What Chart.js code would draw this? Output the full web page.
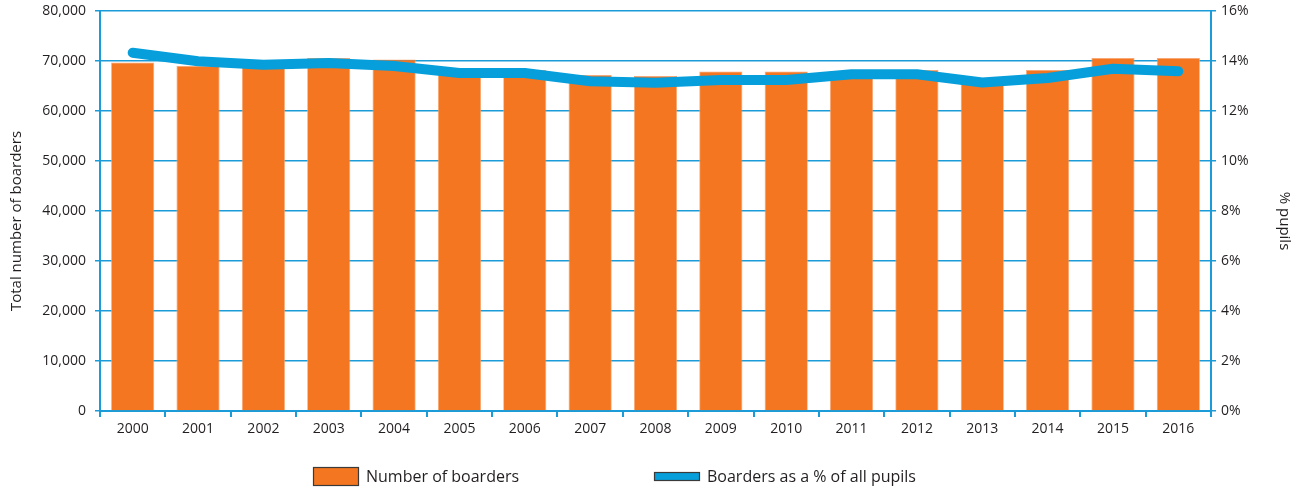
<!DOCTYPE html>
<html>
<head>
<meta charset="utf-8">
<title>Boarders 2000–2016</title>
<script src="https://cdn.jsdelivr.net/npm/chart.js@4/dist/chart.umd.min.js"></script>
<style>
  html, body { margin: 0; padding: 0; background: #ffffff; }
  #wrap { position: relative; width: 1301px; height: 490px; }
</style>
</head>
<body>
<div id="wrap"><canvas id="chart" width="1301" height="490"></canvas></div>
<script>
// Census years
const years = ['2000', '2001', '2002', '2003', '2004', '2005', '2006', '2007', '2008',
               '2009', '2010', '2011', '2012', '2013', '2014', '2015', '2016'];

// Total number of boarders (left axis)
const boarders = [69700, 69000, 68800, 70600, 70300, 67700, 68200, 67200, 67000,
                  67900, 67900, 68000, 68200, 66200, 68200, 70600, 70600];

// Boarders as a percentage of all pupils (right axis)
const boarderShare = [14.33, 13.99, 13.85, 13.92, 13.80, 13.52, 13.52, 13.19, 13.13,
                      13.24, 13.24, 13.47, 13.47, 13.14, 13.32, 13.69, 13.59];

// Axis tick steps
const countStep = 10000;
const countMax = 80000;
const shareStep = 2;
const shareMax = 16;

const seriesNames = ['Number of boarders', 'Boarders as a % of all pupils'];
const axisTitles = ['Total number of boarders', '% pupils'];

const ORANGE = '#f47621';
const BLUE = '#069fdb';
const AXIS_BLUE = '#1b9bd7';
const TEXT = '#231f20';
const FONT = '"Open Sans", "Noto Sans", sans-serif';

// Rotated axis titles, sitting a little below the middle of the plot
const axisTitlePlugin = {
  id: 'axisTitles',
  afterDraw(chart) {
    const ctx = chart.ctx;
    const cy = (chart.chartArea.top + chart.chartArea.bottom) / 2 + 10;
    ctx.save();
    ctx.font = '15px ' + FONT;
    ctx.fillStyle = TEXT;
    ctx.textAlign = 'center';
    ctx.textBaseline = 'middle';
    // left title reads bottom to top
    ctx.save();
    ctx.translate(17, cy);
    ctx.rotate(-Math.PI / 2);
    ctx.fillText(axisTitles[0], 0, 0);
    ctx.restore();
    // right title reads top to bottom
    ctx.save();
    ctx.translate(1284, cy);
    ctx.rotate(Math.PI / 2);
    ctx.fillText(axisTitles[1], 0, 0);
    ctx.restore();
    ctx.restore();
  }
};

// Bottom legend: boxes and labels drawn at fixed spots under the axis
const legendPlugin = {
  id: 'bottomLegend',
  afterDraw(chart) {
    const ctx = chart.ctx;
    const bars = chart.data.datasets.find(d => d.type === 'bar');
    const line = chart.data.datasets.find(d => d.type === 'line');
    const items = [
      { x: 313, y: 467, w: 46, h: 19, fill: bars.backgroundColor, text: bars.label, tx: 366 },
      { x: 654, y: 472, w: 46, h: 9,  fill: line.borderColor,     text: line.label, tx: 707 }
    ];
    ctx.save();
    ctx.font = '16px ' + FONT;
    ctx.textBaseline = 'middle';
    ctx.textAlign = 'left';
    items.forEach(it => {
      ctx.fillStyle = it.fill;
      ctx.fillRect(it.x, it.y, it.w, it.h);
      ctx.lineWidth = 1.2;
      ctx.strokeStyle = '#3a3a3a';
      ctx.strokeRect(it.x + 0.5, it.y + 0.5, it.w - 1, it.h - 1);
      ctx.fillStyle = TEXT;
      ctx.fillText(it.text, it.tx, 477);
    });
    ctx.restore();
  }
};

new Chart(document.getElementById('chart'), {
  data: {
    labels: years,
    datasets: [
      {
        type: 'line',
        label: seriesNames[1],
        data: boarderShare,
        yAxisID: 'y1',
        borderColor: BLUE,
        backgroundColor: BLUE,
        borderWidth: 10,
        borderCapStyle: 'round',
        borderJoinStyle: 'round',
        pointRadius: 0,
        tension: 0,
        order: 0
      },
      {
        type: 'bar',
        label: seriesNames[0],
        data: boarders,
        yAxisID: 'y',
        backgroundColor: ORANGE,
        borderColor: '#f7a46e',
        borderWidth: 0.8,
        barPercentage: 0.66,
        categoryPercentage: 1.0,
        order: 1
      }
    ]
  },
  options: {
    responsive: false,
    animation: false,
    layout: { padding: { top: 11, left: 0, right: 0, bottom: 0 } },
    plugins: {
      legend: { display: false },
      tooltip: { enabled: false }
    },
    scales: {
      x: {
        offset: true,
        grid: {
          display: true,
          drawOnChartArea: false,
          drawTicks: true,
          tickLength: 6,
          offset: true,
          color: AXIS_BLUE,
          lineWidth: 2
        },
        border: { display: true, color: AXIS_BLUE, width: 2 },
        ticks: { color: TEXT, font: { family: FONT, size: 14 }, padding: 4, maxRotation: 0 },
        afterFit(scale) { scale.height = 79; }
      },
      y: {
        position: 'left',
        min: 0,
        max: countMax,
        grid: {
          color: AXIS_BLUE,
          lineWidth: 1.5,
          tickLength: 5,
          drawTicks: true
        },
        border: { display: true, color: AXIS_BLUE, width: 2 },
        ticks: {
          stepSize: countStep,
          color: TEXT,
          font: { family: FONT, size: 14 },
          padding: 9,
          callback: v => v.toLocaleString('en-US')
        },
        afterFit(scale) {
          scale.width = 100;
          scale.paddingTop = 0;
          scale.paddingBottom = 0;
        }
      },
      y1: {
        position: 'right',
        min: 0,
        max: shareMax,
        grid: {
          drawOnChartArea: false,
          color: AXIS_BLUE,
          lineWidth: 1.5,
          tickLength: 5
        },
        border: { display: true, color: AXIS_BLUE, width: 2 },
        ticks: {
          stepSize: shareStep,
          color: TEXT,
          font: { family: FONT, size: 14 },
          padding: 5,
          callback: v => v + '%'
        },
        afterFit(scale) {
          scale.width = 90;
          scale.paddingTop = 0;
          scale.paddingBottom = 0;
        }
      }
    }
  },
  plugins: [axisTitlePlugin, legendPlugin]
});
</script>
</body>
</html>
